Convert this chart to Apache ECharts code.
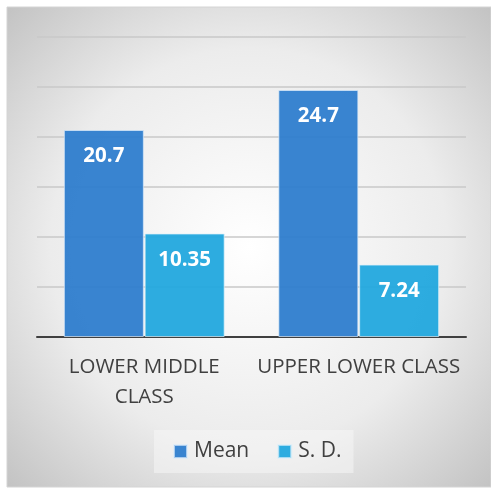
<!DOCTYPE html>
<html>
<head>
<meta charset="utf-8">
<script src="https://cdn.jsdelivr.net/npm/echarts@6/dist/echarts.min.js"></script>
<style>
  html, body { margin: 0; padding: 0; background: #ffffff; }
  #chart { width: 491px; height: 489px; }
</style>
</head>
<body>
<div id="chart"></div>
<script>
// Class groups and their statistics
const categories = ['LOWER MIDDLE\nCLASS', 'UPPER LOWER CLASS'];
const meanValues = [20.7, 24.7];
const sdValues = [10.35, 7.24];
const seriesNames = ['Mean', 'S. D.'];

const font = '"Open Sans", "Noto Sans", sans-serif';
const chart = echarts.init(document.getElementById('chart'));

const valueLabel = {
  show: true,
  position: 'insideTop',
  distance: 16,
  color: '#ffffff',
  fontFamily: font,
  fontWeight: 'bold',
  fontSize: 20.5
};

chart.setOption({
  animation: false,
  graphic: [{
    type: 'rect',
    z: -10,
    shape: { x: 7, y: 7, width: 484, height: 480 },
    style: {
      fill: new echarts.graphic.RadialGradient(0.5, 0.5, 0.75, [
        { offset: 0, color: '#ffffff' },
        { offset: 0.55, color: '#ececec' },
        { offset: 1, color: '#bdbdbd' }
      ]),
      stroke: '#d4d4d4',
      lineWidth: 1
    }
  }],
  grid: { left: 37, right: 25, top: 37, bottom: 152 },
  legend: {
    bottom: 16,
    left: 154,
    data: seriesNames,
    icon: 'rect',
    itemWidth: 13,
    itemHeight: 13,
    itemGap: 28,
    padding: [11, 12, 11, 19],
    backgroundColor: 'rgba(245,245,245,0.55)',
    textStyle: { fontFamily: font, fontSize: 21, color: '#404040', padding: [0, 0, 0, 2] }
  },
  xAxis: {
    type: 'category',
    data: categories,
    axisLine: { lineStyle: { color: '#404040', width: 2 } },
    axisTick: { show: false },
    axisLabel: {
      fontFamily: font,
      fontSize: 20.5,
      color: '#404040',
      lineHeight: 30,
      margin: 15,
      interval: 0
    }
  },
  yAxis: {
    type: 'value',
    min: 0,
    max: 30,
    interval: 5,
    axisLabel: { show: false },
    axisLine: { show: false },
    axisTick: { show: false },
    splitLine: { lineStyle: { color: '#c9c9c9', width: 1.5 } }
  },
  series: [
    {
      name: seriesNames[0],
      type: 'bar',
      data: meanValues,
      barWidth: 80,
      barGap: '1%',
      itemStyle: { color: 'rgba(46,125,205,0.95)', borderColor: 'rgba(220,235,250,0.7)', borderWidth: 1 },
      label: valueLabel
    },
    {
      name: seriesNames[1],
      type: 'bar',
      data: sdValues,
      barWidth: 80,
      barGap: '1%',
      itemStyle: { color: 'rgba(34,168,222,0.95)', borderColor: 'rgba(220,240,250,0.7)', borderWidth: 1 },
      label: valueLabel
    }
  ]
});
</script>
</body>
</html>
